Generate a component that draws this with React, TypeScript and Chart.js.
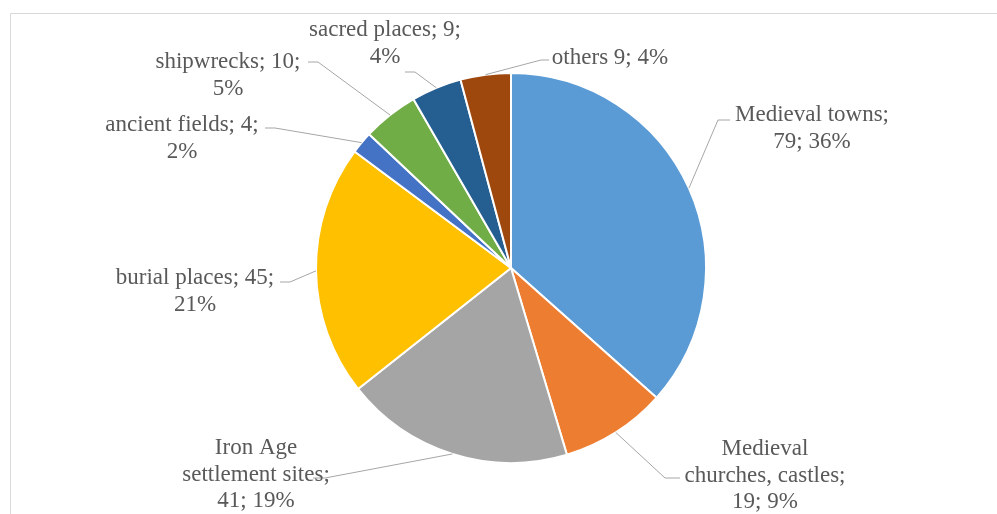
import React, { useEffect, useRef } from "react";
import { Chart, registerables } from "chart.js";

Chart.register(...registerables);

const categories = [
  "Medieval towns",
  "Medieval churches, castles",
  "Iron Age settlement sites",
  "burial places",
  "ancient fields",
  "shipwrecks",
  "sacred places",
  "others",
];
const values = [79, 19, 41, 45, 4, 10, 9, 9];
const percents = [36, 9, 19, 21, 2, 5, 4, 4];
const labelLines = [
  ["Medieval towns;", "79; 36%"],
  ["Medieval", "churches, castles;", "19; 9%"],
  ["Iron Age", "settlement sites;", "41; 19%"],
  ["burial places; 45;", "21%"],
  ["ancient fields; 4;", "2%"],
  ["shipwrecks; 10;", "5%"],
  ["sacred places; 9;", "4%"],
  ["others 9; 4%"],
];
const colors = ["#5B9BD5", "#ED7D31", "#A5A5A5", "#FFC000", "#4472C4", "#70AD47", "#255E91", "#9E480E"];

// label layout relative to the pie centre: text centre x, first line y, leader elbow, stub
const labelLayout = [
  { tx: 301, ty: -153, ex: 207, ey: -148, stub: 12 },
  { tx: 254, ty: 181, ex: 154, ey: 210, stub: 15 },
  { tx: -255, ty: 180, ex: -186, ey: 210, stub: -12 },
  { tx: -316, ty: 10, ex: -221, ey: 14, stub: -10 },
  { tx: -329, ty: -143, ex: -236, ey: -140, stub: -10 },
  { tx: -283, ty: -206, ex: -193, ey: -206, stub: -10 },
  { tx: -126, ty: -238, ex: -96, ey: -196, stub: -10 },
  { tx: 99, ty: -210, ex: 30, ey: -208, stub: 8 },
];

const LINE_H = 26.5;
const FONT = '23px "Liberation Serif", "Times New Roman", serif';

const labelPlugin = {
  id: "pieLabels",
  beforeDraw(chart: any) {
    const ctx = chart.ctx;
    ctx.save();
    ctx.strokeStyle = "#D9D9D9";
    ctx.lineWidth = 1;
    ctx.beginPath();
    ctx.moveTo(10.5, chart.height + 5);
    ctx.lineTo(10.5, 13.5);
    ctx.lineTo(chart.width + 5, 13.5);
    ctx.stroke();
    ctx.restore();
  },
  afterDatasetsDraw(chart: any) {
    const ctx = chart.ctx;
    const meta = chart.getDatasetMeta(0);
    ctx.save();
    meta.data.forEach((arc: any, i: number) => {
      const { x, y, startAngle, endAngle, outerRadius } = arc.getProps(
        ["x", "y", "startAngle", "endAngle", "outerRadius"],
        true
      );
      const mid = (startAngle + endAngle) / 2;
      const px = x + Math.cos(mid) * outerRadius;
      const py = y + Math.sin(mid) * outerRadius;
      const L = labelLayout[i];
      ctx.strokeStyle = "#A6A6A6";
      ctx.lineWidth = 1;
      ctx.beginPath();
      ctx.moveTo(px, py);
      ctx.lineTo(x + L.ex, y + L.ey);
      ctx.lineTo(x + L.ex + L.stub, y + L.ey);
      ctx.stroke();
      ctx.fillStyle = "#595959";
      ctx.font = FONT;
      ctx.textAlign = "center";
      ctx.textBaseline = "middle";
      labelLines[i].forEach((line, j) => {
        ctx.fillText(line, x + L.tx, y + L.ty + j * LINE_H);
      });
    });
    ctx.restore();
  },
};

export default function App() {
  const ref = useRef<HTMLCanvasElement>(null);
  useEffect(() => {
    document.body.style.margin = "0";
    const chart = new Chart(ref.current!, {
      type: "pie",
      data: {
        labels: categories,
        datasets: [
          {
            data: values,
            backgroundColor: colors,
            borderColor: "#FFFFFF",
            borderWidth: 2,
          },
        ],
      },
      options: {
        responsive: false,
        animation: false,
        layout: { padding: { left: 200, right: 175, top: 72, bottom: 50 } },
        plugins: {
          legend: { display: false },
          tooltip: { enabled: false },
        },
      },
      plugins: [labelPlugin],
    });
    return () => chart.destroy();
  }, []);
  return (
    <div style={{ width: 997, height: 514, background: "#fff" }}>
      <canvas ref={ref} width={997} height={514} style={{ display: "block" }} />
    </div>
  );
}
